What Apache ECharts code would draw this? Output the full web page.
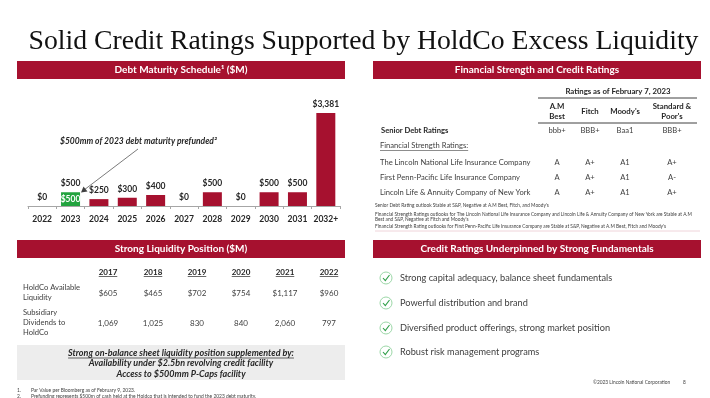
<!DOCTYPE html>
<html>
<head>
<meta charset="utf-8">
<script src="https://cdn.jsdelivr.net/npm/echarts@6/dist/echarts.min.js"></script>
<style>
  html, body { margin: 0; padding: 0; background: #fff; }
  #chart { width: 710px; height: 398px; }
</style>
</head>
<body>
<div id="chart"></div>
<script>
// debt maturity schedule ($M)
const debtYears = ['2022', '2023', '2024', '2025', '2026', '2027', '2028', '2029', '2030', '2031', '2032+'];
const debtValues = [0, 500, 250, 300, 400, 0, 500, 0, 500, 500, 3381];
const prefunded = [null, 500, null, null, null, null, null, null, null, null, null];

// ratings table
const agencies = [['A.M', 'Best'], ['Fitch'], ["Moody's"], ['Standard &', "Poor's"]];
const seniorDebt = ['bbb+', 'BBB+', 'Baa1', 'BBB+'];
const companies = [
  'The Lincoln National Life Insurance Company',
  'First Penn-Pacific Life Insurance Company',
  'Lincoln Life & Annuity Company of New York'
];
const strengthRatings = [
  ['A', 'A+', 'A1', 'A+'],
  ['A', 'A+', 'A1', 'A-'],
  ['A', 'A+', 'A1', 'A+']
];
const ratingNotes = [
  "Senior Debt Rating outlook Stable at S&P, Negative at A.M Best, Fitch, and Moody's",
  'Financial Strength Ratings outlooks for The Lincoln National Life Insurance Company and Lincoln Life & Annuity Company of New York are Stable at A.M',
  "Best and S&P, Negative at Fitch and Moody's",
  "Financial Strength Rating outlooks for First Penn-Pacific Life Insurance Company are Stable at S&P, Negative at A.M Best, Fitch and Moody's"
];

// liquidity table ($M)
const liqYears = ['2017', '2018', '2019', '2020', '2021', '2022'];
const holdcoLiquidity = [605, 465, 702, 754, 1117, 960];
const subsidiaryDividends = [1069, 1025, 830, 840, 2060, 797];

const fundamentals = [
  'Strong capital adequacy, balance sheet fundamentals',
  'Powerful distribution and brand',
  'Diversified product offerings, strong market position',
  'Robust risk management programs'
];

const RED = '#A6112F';
const TXT = '#262626';
const FONT = 'Lato, "Open Sans", sans-serif';

const ctx = document.createElement('canvas').getContext('2d');
function textWidth(str, font) {
  ctx.font = font;
  return ctx.measureText(str).width;
}
const fmt = v => v.toLocaleString('en-US');

const g = [];

// slide title
g.push({
  type: 'text', x: 363.5, y: 42,
  style: { text: 'Solid Credit Ratings Supported by HoldCo Excess Liquidity', fill: '#111',
    font: '27.7px "Liberation Serif", serif', align: 'center', verticalAlign: 'middle' }
});

// section header bars
function header(x, y, label) {
  g.push({ type: 'rect', shape: { x: x, y: y, width: 328, height: 18 }, style: { fill: RED } });
  g.push({ type: 'text', x: x + 164, y: y + 9,
    style: { text: label, fill: '#fff', font: 'bold 10px ' + FONT, align: 'center', verticalAlign: 'middle' } });
}
header(17, 61, 'Debt Maturity Schedule\u00b9 ($M)');
header(373, 61, 'Financial Strength and Credit Ratings');
header(17, 240, 'Strong Liquidity Position ($M)');
header(373, 240, 'Credit Ratings Underpinned by Strong Fundamentals');

// prefunded annotation
g.push({ type: 'text', x: 60, y: 141,
  style: { text: '$500mm of 2023 debt maturity prefunded\u00b2', fill: TXT,
    font: 'italic bold 8.5px ' + FONT, verticalAlign: 'middle' } });
g.push({ type: 'line', shape: { x1: 138, y1: 149, x2: 84, y2: 190 }, style: { stroke: '#595959', lineWidth: 0.8 } });
g.push({ type: 'polygon', shape: { points: [[81, 192.5], [83.5, 186.5], [87.5, 191.5]] }, style: { fill: '#404040' } });

// ratings table
const colX = [557, 590, 625, 672];
const tFont = '7.6px ' + FONT;
const hFont = 'bold 7.8px ' + FONT;
g.push({ type: 'text', x: 618, y: 91,
  style: { text: 'Ratings as of February 7, 2023', fill: TXT, font: hFont, align: 'center', verticalAlign: 'middle' } });
g.push({ type: 'line', shape: { x1: 538, y1: 98, x2: 697, y2: 98 }, style: { stroke: '#404040', lineWidth: 1 } });
g.push({ type: 'line', shape: { x1: 538, y1: 123, x2: 697, y2: 123 }, style: { stroke: '#404040', lineWidth: 1 } });
agencies.forEach((a, i) => {
  a.forEach((ln, j) => {
    const y = a.length === 1 ? 111 : 106 + j * 10;
    g.push({ type: 'text', x: colX[i], y: y,
      style: { text: ln, fill: TXT, font: hFont, align: 'center', verticalAlign: 'middle' } });
  });
});
g.push({ type: 'text', x: 381, y: 131,
  style: { text: 'Senior Debt Ratings', fill: TXT, font: 'bold 7.6px ' + FONT, verticalAlign: 'middle' } });
seniorDebt.forEach((r, i) => {
  g.push({ type: 'text', x: colX[i], y: 131,
    style: { text: r, fill: '#404040', font: tFont, align: 'center', verticalAlign: 'middle' } });
});
const fsLabel = 'Financial Strength Ratings:';
g.push({ type: 'text', x: 380, y: 146,
  style: { text: fsLabel, fill: '#404040', font: tFont, verticalAlign: 'middle' } });
g.push({ type: 'line', shape: { x1: 380, y1: 150.5, x2: 380 + textWidth(fsLabel, tFont), y2: 150.5 },
  style: { stroke: '#404040', lineWidth: 0.6 } });
const rowY = [163, 178, 193];
companies.forEach((c, r) => {
  g.push({ type: 'text', x: 380, y: rowY[r],
    style: { text: c, fill: '#404040', font: tFont, verticalAlign: 'middle' } });
  strengthRatings[r].forEach((v, i) => {
    g.push({ type: 'text', x: colX[i], y: rowY[r],
      style: { text: v, fill: '#404040', font: tFont, align: 'center', verticalAlign: 'middle' } });
  });
});
const noteY = [205, 214.5, 219.5, 226];
ratingNotes.forEach((n, i) => {
  g.push({ type: 'text', x: 375, y: noteY[i],
    style: { text: n, fill: '#404040', font: '4.75px ' + FONT, verticalAlign: 'middle' } });
});
g.push({ type: 'line', shape: { x1: 375, y1: 231, x2: 700, y2: 231 }, style: { stroke: '#EBC9D1', lineWidth: 0.8 } });

// liquidity table
const liqX = [108, 153, 197, 241, 285, 329];
const yFont = 'bold 8px ' + FONT;
liqYears.forEach((y, i) => {
  g.push({ type: 'text', x: liqX[i], y: 272,
    style: { text: y, fill: TXT, font: yFont, align: 'center', verticalAlign: 'middle' } });
  const w = textWidth(y, yFont);
  g.push({ type: 'line', shape: { x1: liqX[i] - w / 2, y1: 276.5, x2: liqX[i] + w / 2, y2: 276.5 },
    style: { stroke: TXT, lineWidth: 0.7 } });
  g.push({ type: 'text', x: liqX[i], y: 293,
    style: { text: '$' + fmt(holdcoLiquidity[i]), fill: '#404040', font: '8px ' + FONT, align: 'center', verticalAlign: 'middle' } });
  g.push({ type: 'text', x: liqX[i], y: 323,
    style: { text: fmt(subsidiaryDividends[i]), fill: '#404040', font: '8px ' + FONT, align: 'center', verticalAlign: 'middle' } });
});
[['HoldCo Available', 288], ['Liquidity', 298], ['Subsidiary', 313], ['Dividends to', 323], ['HoldCo', 333]].forEach(l => {
  g.push({ type: 'text', x: 23, y: l[1],
    style: { text: l[0], fill: '#404040', font: tFont, verticalAlign: 'middle' } });
});

// gray callout box
g.push({ type: 'rect', shape: { x: 17, y: 345, width: 328, height: 35 }, style: { fill: '#EDEDED' } });
const boxFont = 'italic bold 9px ' + FONT;
const boxLines = [
  'Strong on-balance sheet liquidity position supplemented by:',
  'Availability under $2.5bn revolving credit facility',
  'Access to $500mm P-Caps facility'
];
boxLines.forEach((t, i) => {
  g.push({ type: 'text', x: 181, y: 353 + i * 10.5,
    style: { text: t, fill: TXT, font: boxFont, align: 'center', verticalAlign: 'middle' } });
});
const bw = textWidth(boxLines[0], boxFont);
g.push({ type: 'line', shape: { x1: 181 - bw / 2, y1: 358, x2: 181 + bw / 2, y2: 358 },
  style: { stroke: TXT, lineWidth: 0.7 } });

// footnotes
[['1.', 'Par Value per Bloomberg as of February 9, 2023.', 390],
 ['2.', 'Prefunding represents $500m of cash held at the Holdco that is intended to fund the 2023 debt maturity.', 396]].forEach(f => {
  g.push({ type: 'text', x: 17, y: f[2], style: { text: f[0], fill: '#404040', font: '4.9px ' + FONT, verticalAlign: 'middle' } });
  g.push({ type: 'text', x: 31, y: f[2], style: { text: f[1], fill: '#404040', font: '4.9px ' + FONT, verticalAlign: 'middle' } });
});

// fundamentals check list
const checkY = [278, 303, 328, 352];
fundamentals.forEach((t, i) => {
  const cy = checkY[i];
  g.push({ type: 'circle', shape: { cx: 386, cy: cy, r: 6 }, style: { fill: '#fff', stroke: '#9AD6A6', lineWidth: 1 } });
  g.push({ type: 'polyline', shape: { points: [[383, cy], [385.3, cy + 2.6], [389.5, cy - 3]] },
    style: { stroke: '#2E9E48', lineWidth: 1.1, fill: null } });
  g.push({ type: 'text', x: 400, y: cy,
    style: { text: t, fill: '#404040', font: '9.2px ' + FONT, verticalAlign: 'middle' } });
});

g.push({ type: 'text', x: 593, y: 382, style: { text: '\u00a92023 Lincoln National Corporation', fill: '#404040', font: '4.8px ' + FONT, verticalAlign: 'middle' } });
g.push({ type: 'text', x: 683, y: 382, style: { text: '8', fill: '#404040', font: '4.8px ' + FONT, verticalAlign: 'middle' } });

const chart = echarts.init(document.getElementById('chart'));
chart.setOption({
  animation: false,
  grid: { left: 28, right: 370, top: 113, bottom: 192 },
  xAxis: {
    type: 'category',
    data: debtYears,
    axisLine: { lineStyle: { color: '#A6A6A6', width: 1 } },
    axisTick: { show: true, length: 3, lineStyle: { color: '#A6A6A6' } },
    axisLabel: { interval: 0, color: TXT, fontFamily: FONT, fontWeight: 'bold', fontSize: 8.5, margin: 9 }
  },
  yAxis: { type: 'value', min: 0, max: 3381, show: false, splitLine: { show: false } },
  series: [
    {
      type: 'bar',
      data: debtValues.map((v, i) => ({ value: v, itemStyle: { color: i === 1 ? '#22A33E' : RED } })),
      barWidth: 19,
      barGap: '-100%',
      label: {
        show: true, position: 'top', distance: 4,
        color: TXT, fontFamily: FONT, fontWeight: 'bold', fontSize: 8.5,
        formatter: p => '$' + fmt(p.value)
      }
    },
    {
      type: 'bar',
      data: prefunded,
      barWidth: 19,
      itemStyle: { color: 'rgba(0,0,0,0)' },
      label: {
        show: true, position: 'inside',
        color: '#fff', fontFamily: FONT, fontWeight: 'bold', fontSize: 8.5,
        formatter: p => '$' + fmt(p.value)
      }
    }
  ],
  graphic: { elements: g }
});
</script>
</body>
</html>
